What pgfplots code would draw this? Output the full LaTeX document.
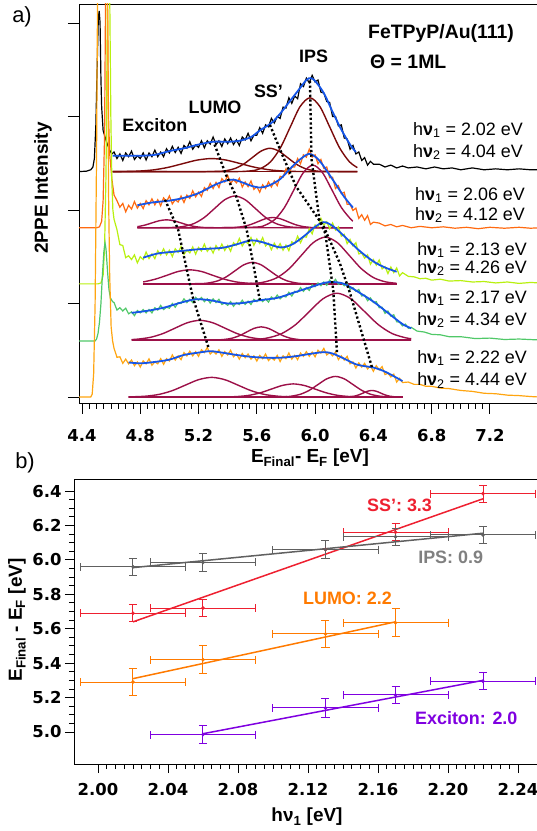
\documentclass[border=0pt]{standalone}
\usepackage{pgfplots}
\pgfplotsset{compat=1.18}
\usepackage{fontspec}
\setmainfont{Liberation Sans}
\newfontfamily\tickfont{DejaVu Sans}
\definecolor{cOR}{HTML}{FF6A10}
\definecolor{cYG}{HTML}{B8F010}
\definecolor{cGR}{HTML}{50C868}
\definecolor{cOA}{HTML}{FFA510}
\definecolor{cFit}{HTML}{1555E8}
\definecolor{cG1}{HTML}{7A0A0A}
\definecolor{cG2}{HTML}{9C1048}
\definecolor{cSS}{HTML}{EE2030}
\definecolor{cIPS}{HTML}{606060}
\definecolor{cLU}{HTML}{FF7A00}
\definecolor{cEX}{HTML}{7F00E0}
\newcommand\lab{\fontsize{18}{20}\selectfont\bfseries}
\newcommand\axl{\fontsize{19}{21}\selectfont\bfseries}
\newcommand\tkf{\tickfont\fontsize{16.5}{18}\selectfont\bfseries}
\newcommand\hvf{\fontsize{18}{20}\selectfont}
\newcommand\hv[2]{h\textbf{ν}\textsubscript{#1} = #2 eV}
\begin{document}
\begin{tikzpicture}
\useasboundingbox (0,0) rectangle (537bp,831bp);
\begin{axis}[
 scale only axis, at={(79bp,428bp)}, anchor=south west,
 width=460bp, height=399bp,
 xmin=4.3794, xmax=7.537, ymin=-0.064, ymax=4.203,
 axis line style={line width=0.9bp},
 tick align=outside, tick pos=left,
 xtick={4.4,4.8,5.2,5.6,6.0,6.4,6.8,7.2}, minor x tick num=7,
 ytick={0,1,2,3,4}, yticklabels={},
 major tick length=11bp, minor tick length=6bp,
 every tick/.style={black, line width=0.9bp},
 xticklabel style={font=\tkf, yshift=-12bp, /pgf/number format/.cd, fixed, fixed zerofill, precision=1, assume math mode=true},
 xlabel={E\textsubscript{Final}- E\textsubscript{F} [eV]},
 xlabel style={font=\axl, at={(axis description cs:0.502,-0.138)}, anchor=center},
 ylabel={2PPE Intensity},
 ylabel style={font=\axl, at={(axis description cs:-0.0783,0.539)}, anchor=center},
]
% ---------- black 2.02 ----------
\addplot[black, line width=1.2bp] table {
4.37 2.41
4.43 2.415
4.46 2.43
4.475 2.46
4.485 2.55
4.495 2.9
4.505 3.6
4.512 4.05
4.518 4.13
4.524 4.0
4.53 3.4
4.535 3.1
4.545 2.85
4.57 2.72
4.59 2.64
4.605 2.60
4.62 2.62
4.64 2.55
4.66 2.60
4.68 2.53
4.70 2.61
4.72 2.57
4.74 2.63
4.76 2.54
4.78 2.58
4.80 2.55
4.82 2.61
4.84 2.535
4.86 2.61
4.88 2.57
4.90 2.64
4.92 2.57
4.94 2.62
4.96 2.57
4.98 2.655
5.00 2.61
5.02 2.68
5.04 2.615
5.06 2.67
5.08 2.605
5.10 2.69
5.12 2.66
5.14 2.73
5.16 2.65
5.18 2.695
5.20 2.67
5.22 2.74
5.24 2.665
5.26 2.74
5.28 2.705
5.30 2.78
5.32 2.70
5.34 2.74
5.36 2.68
5.38 2.76
5.40 2.71
5.42 2.77
5.44 2.70
5.46 2.75
5.48 2.69
5.50 2.78
5.52 2.75
5.54 2.82
5.56 2.74
5.58 2.80
5.60 2.80
5.62 2.88
5.64 2.82
5.66 2.91
5.68 2.89
5.70 2.98
5.72 2.93
5.74 3.00
5.76 2.98
5.78 3.10
5.80 3.09
5.82 3.20
5.84 3.14
5.86 3.22
5.88 3.19
5.90 3.35
5.92 3.32
5.94 3.41
5.96 3.36
5.98 3.44
6.00 3.37
6.02 3.39
6.04 3.26
6.06 3.25
6.08 3.16
6.10 3.15
6.12 3.00
6.14 3.00
6.16 2.90
6.18 2.91
6.20 2.77
6.22 2.76
6.24 2.65
6.26 2.69
6.28 2.60
6.30 2.62
6.32 2.53
6.34 2.56
6.36 2.48
6.38 2.52
6.40 2.49
6.44 2.49
6.48 2.46
6.52 2.48
6.56 2.45
6.60 2.47
6.64 2.45
6.70 2.46
6.76 2.44
6.82 2.46
6.88 2.44
6.94 2.45
7.00 2.43
7.08 2.45
7.16 2.43
7.24 2.44
7.32 2.43
7.40 2.44
7.48 2.43
7.54 2.43
};
\addplot[cG1, line width=1.4bp] coordinates {(4.61,2.41) (6.29,2.41)};
\addplot[cG1, line width=1.4bp, smooth] coordinates {(4.61,2.41) (4.69,2.4116) (4.79,2.4161) (4.89,2.4289) (4.99,2.4555) (5.09,2.4949) (5.19,2.5336) (5.29,2.55) (5.39,2.5336) (5.49,2.4949) (5.59,2.4555) (5.69,2.4289) (5.79,2.4161) (5.89,2.4116) (6.05,2.41) (6.29,2.41)};
\addplot[cG1, line width=1.4bp, smooth] coordinates {(4.61,2.41) (5.1,2.41) (5.33,2.4128) (5.39,2.4211) (5.45,2.4438) (5.51,2.4912) (5.57,2.5616) (5.63,2.6306) (5.69,2.66) (5.75,2.6306) (5.81,2.5616) (5.87,2.4912) (5.93,2.4438) (5.99,2.4211) (6.05,2.4128) (6.29,2.41)};
\addplot[cG1, line width=1.4bp, smooth] coordinates {(4.61,2.41) (5.4,2.41) (5.56,2.4188) (5.6275,2.4447) (5.695,2.5169) (5.7625,2.6665) (5.83,2.8891) (5.8975,3.1072) (5.965,3.20) (6.0325,3.1072) (6.10,2.8891) (6.1675,2.6665) (6.235,2.5169) (6.29,2.4533)};
\addplot[cFit, line width=1.8bp, smooth] coordinates {(4.61,2.58) (4.70,2.58) (4.80,2.58) (4.90,2.59) (5.00,2.63) (5.10,2.66) (5.20,2.70) (5.30,2.73) (5.40,2.73) (5.48,2.74) (5.56,2.78) (5.62,2.85) (5.70,2.93) (5.76,3.03) (5.82,3.15) (5.88,3.27) (5.94,3.39) (5.97,3.41) (6.00,3.38) (6.06,3.25) (6.12,3.05) (6.18,2.86) (6.24,2.70) (6.28,2.62)};
% ---------- orange-red 2.06 ----------
\addplot[cOR, line width=1.2bp] table {
4.37 1.81
4.50 1.81
4.52 1.82
4.535 1.88
4.545 2.1
4.555 2.8
4.562 4.35
4.575 4.35
4.582 3.0
4.59 2.6
4.605 2.33
4.62 2.16
4.64 2.10
4.66 2.03
4.68 2.07
4.70 1.98
4.72 2.05
4.74 2.01
4.76 2.09
4.78 2.02
4.80 2.07
4.82 2.015
4.84 2.10
4.86 2.055
4.88 2.12
4.90 2.055
4.92 2.11
4.94 2.045
4.96 2.13
4.98 2.09
5.00 2.15
5.02 2.065
5.04 2.11
5.06 2.085
5.08 2.15
5.10 2.08
5.12 2.16
5.14 2.125
5.16 2.205
5.18 2.14
5.20 2.19
5.22 2.145
5.24 2.24
5.26 2.21
5.28 2.285
5.30 2.23
5.32 2.295
5.34 2.24
5.36 2.335
5.38 2.30
5.40 2.37
5.42 2.285
5.44 2.325
5.46 2.29
5.48 2.34
5.50 2.245
5.52 2.30
5.54 2.25
5.56 2.31
5.58 2.22
5.60 2.25
5.62 2.19
5.64 2.27
5.66 2.23
5.68 2.30
5.70 2.245
5.72 2.31
5.74 2.26
5.76 2.36
5.78 2.35
5.80 2.44
5.82 2.385
5.84 2.46
5.86 2.46
5.88 2.55
5.90 2.495
5.92 2.59
5.94 2.565
5.96 2.65
5.98 2.565
6.00 2.59
6.02 2.495
6.04 2.54
6.06 2.445
6.08 2.46
6.10 2.345
6.12 2.35
6.14 2.23
6.16 2.26
6.18 2.175
6.20 2.19
6.22 2.06
6.24 2.06
6.26 1.995
6.28 2.02
6.30 1.91
6.32 1.95
6.34 1.89
6.36 1.94
6.38 1.845
6.40 1.87
6.44 1.86
6.48 1.83
6.52 1.845
6.56 1.82
6.60 1.835
6.66 1.81
6.72 1.825
6.80 1.81
6.88 1.82
6.96 1.805
7.04 1.815
7.12 1.80
7.20 1.815
7.30 1.805
7.40 1.815
7.48 1.805
7.54 1.81
};
\addplot[cG2, line width=1.4bp] coordinates {(4.78,1.81) (6.26,1.81)};
\addplot[cG2, line width=1.4bp, smooth] coordinates {(4.78,1.8215) (4.83,1.8376) (4.88,1.8616) (4.93,1.885) (4.98,1.895) (5.03,1.885) (5.08,1.8616) (5.13,1.8376) (5.18,1.8215) (5.23,1.8137) (5.28,1.8109) (5.5,1.81) (6.26,1.81)};
\addplot[cG2, line width=1.4bp, smooth] coordinates {(4.78,1.81) (4.9,1.81) (5.03,1.8138) (5.10,1.8249) (5.17,1.856) (5.24,1.9204) (5.31,2.0162) (5.38,2.11) (5.45,2.15) (5.52,2.11) (5.59,2.0162) (5.66,1.9204) (5.73,1.856) (5.80,1.8249) (5.87,1.8138) (6.0,1.81) (6.26,1.81)};
\addplot[cG2, line width=1.4bp, smooth] coordinates {(4.78,1.81) (5.25,1.81) (5.41,1.8112) (5.46,1.8148) (5.51,1.8249) (5.56,1.8457) (5.61,1.8767) (5.66,1.9071) (5.71,1.92) (5.76,1.9071) (5.81,1.8767) (5.86,1.8457) (5.91,1.8249) (5.96,1.8148) (6.01,1.8112) (6.26,1.81)};
\addplot[cG2, line width=1.4bp, smooth] coordinates {(4.78,1.81) (5.3,1.81) (5.595,1.8174) (5.66,1.8394) (5.725,1.9007) (5.79,2.0275) (5.855,2.2164) (5.92,2.4013) (5.985,2.48) (6.05,2.4013) (6.115,2.2164) (6.18,2.0275) (6.245,1.9007) (6.26,1.8816)};
\addplot[cFit, line width=1.8bp, smooth] coordinates {(4.78,2.05) (4.88,2.08) (5.00,2.10) (5.10,2.13) (5.20,2.18) (5.30,2.26) (5.38,2.31) (5.44,2.325) (5.50,2.295) (5.56,2.26) (5.62,2.24) (5.68,2.26) (5.76,2.33) (5.84,2.46) (5.90,2.545) (5.96,2.60) (6.02,2.545) (6.08,2.42) (6.14,2.28) (6.20,2.14) (6.26,2.025)};
% ---------- yellow-green 2.13 ----------
\addplot[cYG, line width=1.2bp] table {
4.37 1.21
4.51 1.21
4.53 1.22
4.545 1.30
4.555 1.6
4.565 2.4
4.575 4.35
4.59 4.35
4.598 3.0
4.605 2.3
4.612 2.0
4.62 1.90
4.64 1.79
4.66 1.63
4.68 1.62
4.70 1.49
4.72 1.51
4.74 1.47
4.76 1.52
4.78 1.435
4.80 1.50
4.82 1.47
4.84 1.55
4.86 1.48
4.88 1.53
4.90 1.48
4.92 1.565
4.94 1.52
4.96 1.585
4.98 1.52
5.00 1.57
5.02 1.502
5.04 1.585
5.06 1.547
5.08 1.61
5.10 1.525
5.12 1.57
5.14 1.542
5.16 1.605
5.18 1.528
5.20 1.60
5.22 1.562
5.24 1.635
5.26 1.558
5.28 1.60
5.30 1.54
5.32 1.62
5.34 1.572
5.36 1.635
5.38 1.567
5.40 1.62
5.42 1.56
5.44 1.65
5.46 1.622
5.48 1.695
5.50 1.615
5.52 1.665
5.54 1.64
5.56 1.705
5.58 1.622
5.60 1.69
5.62 1.642
5.64 1.705
5.66 1.615
5.68 1.645
5.70 1.575
5.72 1.645
5.74 1.587
5.76 1.64
5.78 1.57
5.80 1.625
5.82 1.565
5.84 1.66
5.86 1.64
5.88 1.72
5.90 1.65
5.92 1.715
5.94 1.71
5.96 1.80
5.98 1.745
6.00 1.84
6.02 1.82
6.04 1.91
6.06 1.84
6.08 1.875
6.10 1.80
6.12 1.86
6.14 1.785
6.16 1.82
6.18 1.72
6.20 1.74
6.22 1.64
6.24 1.685
6.26 1.615
6.28 1.65
6.30 1.53
6.32 1.54
6.34 1.485
6.36 1.52
6.38 1.42
6.40 1.47
6.42 1.41
6.44 1.465
6.46 1.37
6.48 1.395
6.50 1.32
6.52 1.39
6.54 1.33
6.56 1.38
6.58 1.295
6.60 1.33
6.64 1.29
6.68 1.285
6.72 1.265
6.76 1.27
6.80 1.25
6.86 1.26
6.92 1.24
7.00 1.245
7.08 1.23
7.16 1.235
7.24 1.22
7.32 1.23
7.40 1.215
7.48 1.225
7.54 1.22
};
\addplot[cG2, line width=1.4bp] coordinates {(4.82,1.21) (6.56,1.21)};
\addplot[cG2, line width=1.4bp, smooth] coordinates {(4.82,1.2303) (4.90,1.2587) (4.98,1.30) (5.06,1.3424) (5.14,1.36) (5.22,1.3424) (5.30,1.30) (5.38,1.2587) (5.46,1.2303) (5.54,1.2166) (5.62,1.2117) (5.8,1.21) (6.56,1.21)};
\addplot[cG2, line width=1.4bp, smooth] coordinates {(4.82,1.21) (5.0,1.21) (5.21,1.2126) (5.27,1.2201) (5.33,1.2411) (5.39,1.2847) (5.45,1.3495) (5.51,1.413) (5.57,1.44) (5.63,1.413) (5.69,1.3495) (5.75,1.2847) (5.81,1.2411) (5.87,1.2201) (5.93,1.2126) (6.15,1.21) (6.56,1.21)};
\addplot[cG2, line width=1.4bp, smooth] coordinates {(4.82,1.21) (5.35,1.21) (5.575,1.2156) (5.6575,1.232) (5.74,1.2777) (5.8225,1.3724) (5.905,1.5133) (5.9875,1.6513) (6.07,1.71) (6.1525,1.6513) (6.235,1.5133) (6.3175,1.3724) (6.40,1.2777) (6.4825,1.232) (6.56,1.2161)};
\addplot[cFit, line width=1.8bp, smooth] coordinates {(4.82,1.49) (4.92,1.535) (5.04,1.555) (5.20,1.58) (5.36,1.595) (5.46,1.632) (5.56,1.675) (5.64,1.655) (5.76,1.60) (5.84,1.63) (5.92,1.715) (6.00,1.82) (6.06,1.87) (6.12,1.83) (6.20,1.72) (6.30,1.57) (6.40,1.45) (6.48,1.385) (6.56,1.34)};
% ---------- green 2.17 ----------
\addplot[cGR, line width=1.2bp] table {
4.37 0.60
4.49 0.60
4.50 0.62
4.51 0.68
4.52 0.80
4.53 1.0
4.54 1.3
4.55 1.55
4.558 1.65
4.565 1.58
4.575 1.35
4.585 1.15
4.595 1.06
4.61 1.02
4.62 1.01
4.64 0.93
4.66 0.955
4.68 0.92
4.70 0.95
4.72 0.89
4.74 0.91
4.76 0.87
4.78 0.925
4.80 0.90
4.82 0.935
4.84 0.90
4.86 0.935
4.88 0.90
4.90 0.955
4.92 0.93
4.94 0.98
4.96 0.935
4.98 0.96
5.00 0.95
5.02 1.00
5.04 0.96
5.06 1.01
5.08 1.00
5.10 1.05
5.12 1.01
5.14 1.045
5.16 1.01
5.18 1.065
5.20 1.035
5.22 1.065
5.24 1.02
5.26 1.05
5.28 1.005
5.30 1.05
5.32 1.01
5.34 1.045
5.36 0.99
5.38 1.005
5.40 0.98
5.42 1.02
5.44 0.97
5.46 1.01
5.48 0.99
5.50 1.035
5.52 0.99
5.54 1.025
5.56 0.99
5.58 1.045
5.60 1.02
5.62 1.055
5.64 1.02
5.66 1.05
5.68 1.015
5.70 1.07
5.72 1.045
5.74 1.09
5.76 1.05
5.78 1.08
5.80 1.07
5.82 1.12
5.84 1.08
5.86 1.13
5.88 1.12
5.90 1.17
5.92 1.13
5.94 1.17
5.96 1.14
5.98 1.20
6.00 1.18
6.02 1.22
6.04 1.19
6.06 1.23
6.08 1.195
6.10 1.25
6.12 1.22
6.14 1.258
6.16 1.205
6.18 1.22
6.20 1.19
6.22 1.215
6.24 1.15
6.26 1.17
6.28 1.13
6.30 1.15
6.32 1.08
6.34 1.09
6.36 1.03
6.38 1.06
6.40 1.01
6.42 1.02
6.44 0.955
6.46 0.96
6.48 0.895
6.50 0.92
6.52 0.865
6.54 0.88
6.56 0.805
6.58 0.80
6.60 0.76
6.62 0.78
6.64 0.735
6.66 0.745
6.70 0.705
6.75 0.695
6.80 0.67
6.86 0.665
6.92 0.645
7.00 0.645
7.10 0.625
7.20 0.63
7.30 0.615
7.40 0.62
7.54 0.61
};
\addplot[cG2, line width=1.4bp] coordinates {(4.74,0.61) (6.66,0.61)};
\addplot[cG2, line width=1.4bp, smooth] coordinates {(4.74,0.6147) (4.785,0.6192) (4.87,0.6384) (4.955,0.6782) (5.04,0.7374) (5.125,0.7953) (5.21,0.82) (5.295,0.7953) (5.38,0.7374) (5.465,0.6782) (5.55,0.6384) (5.635,0.6192) (5.72,0.6123) (5.9,0.61) (6.66,0.61)};
\addplot[cG2, line width=1.4bp, smooth] coordinates {(4.74,0.61) (5.15,0.61) (5.33,0.6116) (5.38,0.6161) (5.43,0.6289) (5.48,0.6555) (5.53,0.6949) (5.58,0.7336) (5.63,0.75) (5.68,0.7336) (5.73,0.6949) (5.78,0.6555) (5.83,0.6289) (5.88,0.6161) (5.93,0.6116) (6.66,0.61)};
\addplot[cG2, line width=1.4bp, smooth] coordinates {(4.74,0.61) (5.35,0.61) (5.58,0.6156) (5.675,0.632) (5.77,0.6777) (5.865,0.7724) (5.96,0.9133) (6.055,1.0513) (6.15,1.11) (6.245,1.0513) (6.34,0.9133) (6.435,0.7724) (6.53,0.6777) (6.625,0.632) (6.66,0.6238)};
\addplot[cFit, line width=1.8bp, smooth] coordinates {(4.74,0.90) (4.84,0.92) (4.96,0.955) (5.08,1.01) (5.18,1.045) (5.28,1.035) (5.40,1.00) (5.50,1.005) (5.62,1.035) (5.74,1.06) (5.86,1.12) (5.98,1.18) (6.06,1.22) (6.12,1.23) (6.20,1.21) (6.30,1.12) (6.40,1.02) (6.50,0.90) (6.60,0.78) (6.66,0.735)};
% ---------- orange 2.22 ----------
\addplot[cOA, line width=1.2bp] table {
4.37 0.0
4.46 0.0
4.47 0.03
4.48 0.25
4.49 1.0
4.50 2.6
4.507 4.35
4.575 4.35
4.582 2.2
4.59 1.3
4.60 0.75
4.61 0.60
4.62 0.52
4.64 0.425
4.66 0.43
4.68 0.36
4.70 0.405
4.72 0.355
4.74 0.395
4.76 0.335
4.78 0.375
4.80 0.32
4.82 0.387
4.84 0.355
4.86 0.408
4.88 0.34
4.90 0.375
4.92 0.355
4.94 0.41
4.96 0.35
4.98 0.41
5.00 0.385
5.02 0.45
5.04 0.395
5.06 0.44
5.08 0.40
5.10 0.475
5.12 0.44
5.14 0.49
5.16 0.44
5.18 0.485
5.20 0.435
5.22 0.505
5.24 0.475
5.26 0.53
5.28 0.46
5.30 0.49
5.32 0.46
5.34 0.505
5.36 0.435
5.38 0.485
5.40 0.45
5.42 0.50
5.44 0.43
5.46 0.46
5.48 0.405
5.50 0.465
5.52 0.42
5.54 0.46
5.56 0.405
5.58 0.44
5.60 0.385
5.62 0.445
5.64 0.41
5.66 0.46
5.68 0.39
5.70 0.42
5.72 0.395
5.74 0.445
5.76 0.38
5.78 0.44
5.80 0.41
5.82 0.47
5.84 0.405
5.86 0.445
5.88 0.40
5.90 0.47
5.92 0.435
5.94 0.485
5.96 0.435
5.98 0.48
6.00 0.43
6.02 0.50
6.04 0.47
6.06 0.52
6.08 0.45
6.10 0.475
6.12 0.44
6.14 0.48
6.16 0.40
6.18 0.44
6.20 0.395
6.22 0.435
6.24 0.355
6.26 0.375
6.28 0.31
6.30 0.365
6.32 0.32
6.34 0.36
6.36 0.30
6.38 0.335
6.40 0.275
6.42 0.335
6.44 0.29
6.46 0.325
6.48 0.24
6.50 0.255
6.52 0.215
6.54 0.245
6.56 0.16
6.58 0.20
6.60 0.155
6.64 0.16
6.68 0.135
6.72 0.135
6.76 0.115
6.80 0.115
6.86 0.095
6.92 0.09
7.00 0.07
7.08 0.06
7.16 0.04
7.24 0.035
7.32 0.02
7.40 0.015
7.48 0.005
7.54 0.0
};
\addplot[cG2, line width=1.4bp] coordinates {(4.72,0) (6.60,0)};
\addplot[cG2, line width=1.4bp, smooth] coordinates {(4.72,0) (4.75,0.0023) (4.84,0.0092) (4.93,0.0284) (5.02,0.0682) (5.11,0.1274) (5.20,0.1853) (5.29,0.21) (5.38,0.1853) (5.47,0.1274) (5.56,0.0682) (5.65,0.0284) (5.74,0.0092) (5.83,0.0023) (6.0,0) (6.60,0)};
\addplot[cG2, line width=1.4bp, smooth] coordinates {(4.72,0) (5.2,0) (5.40,0.0016) (5.475,0.0061) (5.55,0.0189) (5.625,0.0455) (5.70,0.0849) (5.775,0.1236) (5.85,0.14) (5.925,0.1236) (6.00,0.0849) (6.075,0.0455) (6.15,0.0189) (6.225,0.0061) (6.30,0.0016) (6.60,0)};
\addplot[cG2, line width=1.4bp, smooth] coordinates {(4.72,0) (5.55,0) (5.78,0.0024) (5.84,0.0097) (5.90,0.0298) (5.96,0.0714) (6.02,0.1334) (6.08,0.1942) (6.14,0.22) (6.20,0.1942) (6.26,0.1334) (6.32,0.0714) (6.38,0.0298) (6.44,0.0097) (6.50,0.0024) (6.60,0)};
\addplot[cG2, line width=1.4bp, smooth] coordinates {(4.72,0) (6.0,0) (6.21,0.0008) (6.24,0.0031) (6.27,0.0095) (6.30,0.0227) (6.33,0.0425) (6.36,0.0618) (6.39,0.07) (6.42,0.0618) (6.45,0.0425) (6.48,0.0227) (6.51,0.0095) (6.54,0.0031) (6.57,0.0008) (6.60,0)};
\addplot[cFit, line width=1.8bp, smooth] coordinates {(4.72,0.37) (4.80,0.36) (4.90,0.375) (5.00,0.40) (5.10,0.45) (5.20,0.475) (5.28,0.49) (5.36,0.475) (5.46,0.45) (5.56,0.43) (5.66,0.42) (5.76,0.42) (5.86,0.435) (5.96,0.46) (6.06,0.48) (6.12,0.465) (6.20,0.41) (6.28,0.35) (6.34,0.33) (6.40,0.315) (6.46,0.285) (6.52,0.24) (6.60,0.17)};
% ---------- dotted guides ----------
\addplot[black, line width=2.4bp, dash pattern=on 2.2bp off 2.4bp] coordinates {(4.97,2.11) (5.06,1.79) (5.16,1.07) (5.27,0.52)};
\addplot[black, line width=2.4bp, dash pattern=on 2.2bp off 2.4bp] coordinates {(5.31,2.70) (5.39,2.37) (5.46,2.14) (5.53,1.79) (5.575,1.43) (5.62,1.04)};
\addplot[black, line width=2.4bp, dash pattern=on 2.2bp off 2.4bp] coordinates {(5.69,2.91) (5.78,2.57) (5.87,2.25) (6.06,1.82) (6.17,1.43) (6.24,1.11) (6.39,0.32)};
\addplot[black, line width=2.4bp, dash pattern=on 2.2bp off 2.4bp] coordinates {(5.965,3.38) (5.975,2.55) (6.03,1.89) (6.07,1.75) (6.125,1.14) (6.15,0.48)};
% ---------- texts ----------
\node[font=\lab] at (axis cs:4.90,2.91) {Exciton};
\node[font=\lab] at (axis cs:5.313,3.10) {LUMO};
\node[font=\lab] at (axis cs:5.68,3.27) {SS’};
\node[font=\lab] at (axis cs:5.99,3.64) {IPS};
\node[font=\fontsize{19.5}{22}\selectfont\bfseries, anchor=west, inner sep=0pt] at (axis cs:6.363,3.893) {FeTPyP/Au(111)};
\node[font=\fontsize{19.5}{22}\selectfont\bfseries, anchor=west, inner sep=0pt] at (axis cs:6.377,3.583) {Θ = 1ML};
\node[font=\hvf, anchor=west, inner sep=0pt] at (axis cs:6.672,2.856) {\hv{1}{2.02}};
\node[font=\hvf, anchor=west, inner sep=0pt] at (axis cs:6.672,2.620) {\hv{2}{4.04}};
\node[font=\hvf, anchor=west, inner sep=0pt] at (axis cs:6.686,2.160) {\hv{1}{2.06}};
\node[font=\hvf, anchor=west, inner sep=0pt] at (axis cs:6.686,1.947) {\hv{2}{4.12}};
\node[font=\hvf, anchor=west, inner sep=0pt] at (axis cs:6.700,1.572) {\hv{1}{2.13}};
\node[font=\hvf, anchor=west, inner sep=0pt] at (axis cs:6.700,1.380) {\hv{2}{4.26}};
\node[font=\hvf, anchor=west, inner sep=0pt] at (axis cs:6.700,1.059) {\hv{1}{2.17}};
\node[font=\hvf, anchor=west, inner sep=0pt] at (axis cs:6.700,0.824) {\hv{2}{4.34}};
\node[font=\hvf, anchor=west, inner sep=0pt] at (axis cs:6.700,0.417) {\hv{1}{2.22}};
\node[font=\hvf, anchor=west, inner sep=0pt] at (axis cs:6.700,0.180) {\hv{2}{4.44}};
\end{axis}
% ================= panel b =================
\begin{axis}[
 scale only axis, at={(74bp,67bp)}, anchor=south west,
 width=465bp, height=285bp,
 xmin=1.98629, xmax=2.2520, ymin=4.814, ymax=6.470,
 axis line style={line width=0.9bp},
 tick align=outside, tick pos=left,
 xtick={2.00,2.04,2.08,2.12,2.16,2.20,2.24}, minor x tick num=7,
 ytick={5.0,5.2,5.4,5.6,5.8,6.0,6.2,6.4}, minor y tick num=3,
 major tick length=9bp, minor tick length=5bp,
 every tick/.style={black, line width=0.9bp},
 xticklabel style={font=\tkf, yshift=-7bp, /pgf/number format/.cd, fixed, fixed zerofill, precision=2, assume math mode=true},
 yticklabel style={font=\tkf, /pgf/number format/.cd, fixed, fixed zerofill, precision=1, assume math mode=true},
 xlabel={h\textbf{ν}\textsubscript{1} [eV]},
 xlabel style={font=\axl, at={(axis description cs:0.501,-0.186)}, anchor=center},
 ylabel={E\textsubscript{Final} - E\textsubscript{F} [eV]},
 ylabel style={font=\axl, at={(axis description cs:-0.1226,0.505)}, anchor=center},
 error bars/error bar style={line width=1bp},
 error bars/error mark options={rotate=90, mark size=4bp, line width=1bp},
]
\addplot[cSS, line width=1.5bp] coordinates {(2.02,5.64) (2.22,6.355)};
\addplot[cSS, only marks, mark=*, mark size=1.6bp, error bars/.cd, x dir=both, x explicit, y dir=both, y explicit]
 table[x=x, y=y, x error=ex, y error=ey] {
x y ex ey
2.02 5.69 0.03 0.05
2.06 5.72 0.03 0.05
2.13 6.06 0.03 0.05
2.17 6.16 0.03 0.05
2.22 6.385 0.03 0.05
};
\addplot[cIPS, line width=1.5bp] coordinates {(2.02,5.955) (2.22,6.155)};
\addplot[cIPS, only marks, mark=*, mark size=1.6bp, error bars/.cd, x dir=both, x explicit, y dir=both, y explicit]
 table[x=x, y=y, x error=ex, y error=ey] {
x y ex ey
2.02 5.96 0.03 0.05
2.06 5.985 0.03 0.05
2.13 6.06 0.03 0.05
2.17 6.135 0.03 0.05
2.22 6.145 0.03 0.05
};
\addplot[cLU, line width=1.5bp] coordinates {(2.02,5.31) (2.17,5.64)};
\addplot[cLU, only marks, mark=*, mark size=1.6bp, error bars/.cd, x dir=both, x explicit, y dir=both, y explicit]
 table[x=x, y=y, x error=ex, y error=ey] {
x y ex ey
2.02 5.29 0.03 0.08
2.06 5.42 0.03 0.08
2.13 5.57 0.03 0.08
2.17 5.635 0.03 0.08
};
\addplot[cEX, line width=1.5bp] coordinates {(2.06,4.99) (2.22,5.30)};
\addplot[cEX, only marks, mark=*, mark size=1.6bp, error bars/.cd, x dir=both, x explicit, y dir=both, y explicit]
 table[x=x, y=y, x error=ex, y error=ey] {
x y ex ey
2.06 4.985 0.03 0.05
2.13 5.14 0.03 0.055
2.17 5.215 0.03 0.05
2.22 5.295 0.03 0.05
};
\node[font=\lab, text=cSS, anchor=west, inner sep=0pt] at (axis cs:2.1537,6.319) {SS’: 3.3};
\node[font=\lab, text=gray, anchor=west, inner sep=0pt] at (axis cs:2.1829,6.017) {IPS: 0.9};
\node[font=\lab, text=cLU, anchor=west, inner sep=0pt] at (axis cs:2.1171,5.779) {LUMO: 2.2};
\node[font=\lab, text=cEX, anchor=west, inner sep=0pt] at (axis cs:2.1811,5.081) {Exciton: 2.0};
\end{axis}
\node[font=\fontsize{22}{24}\selectfont] at (22bp,814bp) {a)};
\node[font=\fontsize{22}{24}\selectfont] at (25bp,368bp) {b)};
\end{tikzpicture}
\end{document}
